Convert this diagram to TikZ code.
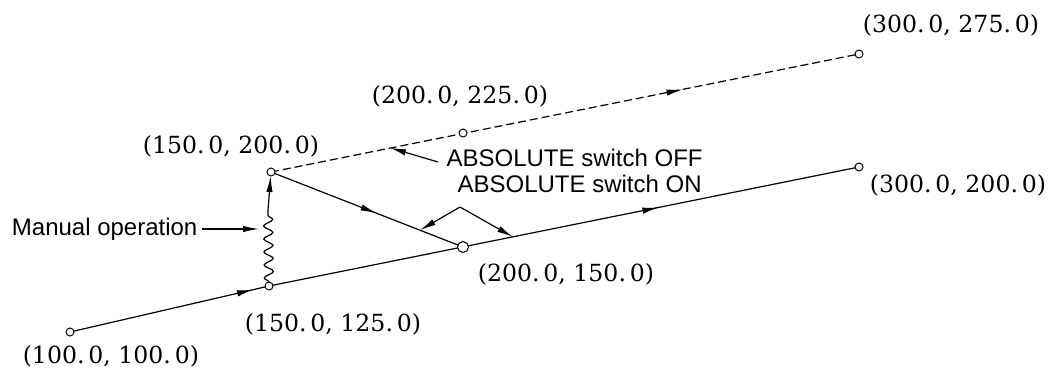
\documentclass[tikz,border=0pt]{standalone}
\usepackage{fontspec}
\setmainfont{Liberation Sans}
\newfontfamily\coordfont{DejaVu Serif}
\usetikzlibrary{arrows.meta,calc,decorations.markings,decorations.pathmorphing}

\tikzset{
  tip/.style={-{Latex[length=8pt,width=3.2pt]}},
  midarrow/.style={decoration={markings,
      mark=at position #1 with {\arrow{Latex[length=8pt,width=3.2pt]}}},
    postaction={decorate}},
  pt/.style={draw,fill=white,line width=0.5pt},
  coordlbl/.style={font=\coordfont\fontsize{11.8}{13}\selectfont,inner sep=0pt},
  lbl/.style={font=\fontsize{12}{14}\selectfont,inner sep=0pt},
  squiggle/.style={decorate,decoration={snake,amplitude=2.3pt,segment length=6.5pt,
      pre length=2pt,post length=0pt}}
}

\begin{document}
\begin{tikzpicture}[x=0.5pt,y=-0.5pt,line width=0.6pt]
    \useasboundingbox (0,0) rectangle (1054,372);
    % points of the tool path
    \coordinate (p100) at (70,332);
    \coordinate (p150a) at (269,286);
    \coordinate (p150b) at (271,172);
    \coordinate (p200a) at (463,247);
    \coordinate (p300a) at (859,167);
    \coordinate (p200b) at (463,133);
    \coordinate (p300b) at (859,54);
    % paths
    \draw[midarrow=0.92] (p100) -- (p150a);
    \draw[midarrow=0.66] (p150a) -- (p300a);
    \draw[midarrow=0.55] (p150b) -- (p200a);
    \draw[dashed,dash pattern=on 4pt off 2pt,midarrow=0.7] (p150b) -- (p300b);
    % manual operation
    \coordinate (zzTop) at (268,210);
    \draw[squiggle] (p150a) -- (zzTop);
    \draw[tip,shorten >=2pt] (zzTop) -- (p150b);
    % end point circles
    \foreach \p in {p100,p150a,p150b,p300a,p200b,p300b}
      \draw[pt] (\p) circle (4);
    \draw[pt] (p200a) circle (5.5);
    % coordinates
    \node[coordlbl] (l100) at (111,356) {(100.\,0, 100.\,0)};
    \node[coordlbl] (l150a) at (333,324) {(150.\,0, 125.\,0)};
    \node[coordlbl] (l150b) at (231,146) {(150.\,0, 200.\,0)};
    \node[coordlbl] (l200a) at (566,274) {(200.\,0, 150.\,0)};
    \node[coordlbl] (l200b) at (460,96) {(200.\,0, 225.\,0)};
    \node[coordlbl] (l300b) at (951,25) {(300.\,0, 275.\,0)};
    \node[coordlbl] (l300a) at (958,185) {(300.\,0, 200.\,0)};
    % callouts
    \node[lbl,anchor=east] (mantxt) at (198,229) {Manual operation};
    \coordinate (manEnd) at (259,229);
    \draw[tip] ([xshift=2pt]mantxt.east) -- (manEnd);
    \node[lbl,anchor=west] (offtxt) at (446,158) {ABSOLUTE switch OFF};
    \coordinate (offEnd) at ($(p150b)!0.62!(p200b)$);
    \draw[tip] ([xshift=-4pt,yshift=-2pt]offtxt.west) -- (offEnd);
    \node[lbl,anchor=west] (ontxt) at (457,184) {ABSOLUTE switch ON};
    \coordinate (onApex) at (460,207);
    \coordinate (onEndA) at ($(p150b)!0.776!(p200a)$);
    \coordinate (onEndB) at ($(p200a)!0.126!(p300a)$);
    \draw[tip] (onApex) -- (onEndA);
    \draw[tip] (onApex) -- (onEndB);
  \end{tikzpicture}
\end{document}
